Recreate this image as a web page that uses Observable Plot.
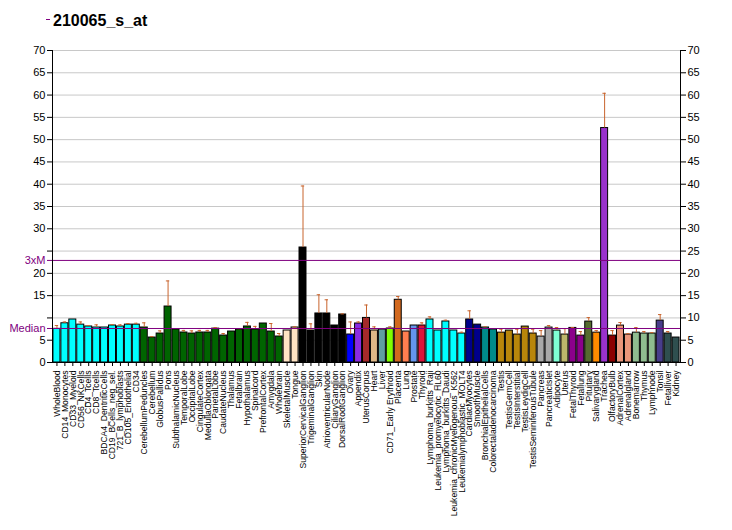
<!DOCTYPE html>
<html>
<head>
<meta charset="utf-8">
<script src="https://cdn.jsdelivr.net/npm/d3@7"></script>
<script src="https://cdn.jsdelivr.net/npm/@observablehq/plot@0.6"></script>
<style>
  html, body { margin: 0; padding: 0; background: white; }
  #wrap { position: relative; width: 732px; height: 530px; overflow: hidden; }
  #title { position: absolute; left: 53px; top: 12px; font: bold 16px "Liberation Sans", Arial, sans-serif; color: #000; }
  #dash { position: absolute; left: 46px; top: 19px; width: 4px; height: 1px; background: #800080; }
  #chart { position: absolute; left: 0; top: 40px; }
</style>
</head>
<body>
<div id="wrap">
  <div id="dash"></div>
  <div id="title">210065_s_at</div>
  <div id="chart"></div>
</div>
<script>
const tissues = [
  "WholeBlood","CD14_Monocytes","CD33_Myeloid","CD56_NKCells","CD4_Tcells","CD8_Tcells",
  "BDCA4_DentriticCells","CD19_BCells_neg_sel.","721_B_lymphoblasts","CD105_Endothelial","CD34",
  "CerebellumPeduncles","Cerebellum","GlobusPallidus","Pons","SubthalamicNucleus","TemporalLobe",
  "OccipitalLobe","CingulateCortex","MedullaOblongata","ParietalLobe","CaudateNucleus","Thalamus",
  "Fetalbrain","Hypothalamus","Spinalcord","PrefrontalCortex","Amygdala","Wholebrain",
  "SkeletalMuscle","Tongue",
  "SuperiorCervicalGanglion","TrigeminalGanglion","Skin","AtrioventricularNode","CiliaryGanglion","DorsalRootGanglion",
  "Ovary","Appendix","UterusCorpus","Heart","Liver","CD71_Early Erythroid","Placenta","Lung","Prostate","Thyroid",
  "Lymphoma_burkitts_Raji","Leukemia_promyelocytic_HL60","Lymphoma_burkitts_Daudi",
  "Leukemia_chronicMyelogenous_K562","Leukemialymphoblastic_MOLT4",
  "CardiacMyocytes","SmoothMuscle","BronchialEpithelialCells","Colorectaladenocarcinoma",
  "Testis","TestisGermCell","TestisInterstitial","TestisLeydigCell","TestisSeminiferousTubule",
  "Pancreas","PancreaticIslet","Adipocyte","Uterus","FetalThyroid","Fetallung","Pituitary",
  "Salivarygland","Trachea","OlfactoryBulb","AdrenalCortex","Adrenalgland","Bonemarrow",
  "Thymus","Lymphnode","Tonsil","Fetalliver","Kidney"
];

const values = [
  7.55, 8.8, 9.65, 8.5, 8.08, 7.85, 7.85, 8.3, 8.08, 8.5, 8.5,
  7.85, 5.6, 6.5, 12.56, 7.4, 6.73, 6.5, 6.73, 6.73, 7.6, 6.05, 6.95, 7.4, 8.08, 7.4, 8.75, 6.95, 5.83,
  7.18, 7.85,
  25.8, 7.18, 11.0, 11.0, 8.3, 10.77,
  6.28, 8.75, 10.0, 7.18, 7.4, 7.63, 14.07, 6.95, 8.3, 8.3,
  9.65, 7.18, 9.2, 7.18, 6.5,
  9.65, 8.5, 7.85, 7.4,
  6.7, 7.16, 6.27, 8.06, 6.5,
  5.82, 7.84, 7.16, 6.27, 7.76, 6.04, 9.18, 6.7, 52.6, 6.04, 8.28, 6.27, 6.7, 6.5, 6.5, 9.4, 6.5, 5.6
];

const errorTops = [
  8.3, 9.1, null, 9.1, 8.3, 8.45, null, 8.5, 8.45, 8.75, 8.8,
  8.9, 5.8, 7.1, 18.3, null, 7.2, 7.1, 7.2, 7.2, 7.85, 6.5, null, 7.6, 9.0, 8.1, null, 8.75, 6.5,
  null, 8.0,
  39.6, 8.68, 15.2, 14.07, null, 10.9,
  9.1, 9.1, 12.9, 8.0, 7.6, 8.0, 14.8, null, null, 8.9,
  10.24, null, 9.5, null, 6.8,
  11.6, null, 8.0, 7.6,
  7.46, null, 7.46, null, 7.46,
  7.16, 8.28, 7.84, 7.6, 7.84, 6.94, 10.07, 7.16, 60.4, 7.16, 8.96, 6.5, 7.84, 6.94, 6.7, 10.75, 6.94, null
];

const barColors = [
  ...Array(11).fill("#00ffff"),
  ...Array(18).fill("#006400"),
  ...Array(2).fill("#ffe4c4"),
  ...Array(6).fill("#000000"),
  "#0000ff","#8a2be2","#a52a2a","#deb887","#5f9ea0","#7fff00","#d2691e","#ff7f50","#6495ed","#dc143c",
  ...Array(5).fill("#00ffff"),
  "#00008b","#00008b","#008b8b","#008b8b",
  ...Array(5).fill("#b8860b"),
  "#a9a9a9","#a9a9a9","#7fffd4","#bdb76b","#8b008b","#8b008b","#556b2f","#ff8c00","#9932cc","#8b0000",
  "#e9967a","#e9967a","#8fbc8f","#8fbc8f","#8fbc8f","#483d8b","#2f4f4f","#2f4f4f"
];

const yTicks = [0,5,10,15,20,25,30,35,40,45,50,55,60,65,70];
const median = 7.63;
const threeM = 22.9;

const data = tissues.map((t, i) => ({tissue: t, value: values[i], err: errorTops[i], color: barColors[i]}));
const errData = data.filter(d => d.err != null);

const errColor = "#c8642d";

const chart = Plot.plot({
  width: 732,
  height: 490,
  marginLeft: 52,
  marginRight: 52,
  marginTop: 10,
  marginBottom: 168,
  style: {fontFamily: "'Liberation Sans', Arial, sans-serif", fontSize: "11px", background: "white", color: "black"},
  x: {type: "band", domain: tissues, padding: 0.12, align: 0.5, label: null, axis: null},
  y: {domain: [0, 70], label: null, axis: null},
  color: {type: "identity"},
  marks: [
    Plot.gridY(yTicks.filter(d => d > 0), {stroke: "#c8c8c8", strokeOpacity: 1}),
    Plot.barY(data, {x: "tissue", y: "value", fill: "color", stroke: "black", strokeWidth: 1}),
    Plot.ruleX(errData, {x: "tissue", y1: "value", y2: "err", stroke: errColor, strokeWidth: 1}),
    Plot.tickY(errData, {x: "tissue", y: "err", stroke: errColor, strokeWidth: 1, insetLeft: 1.8, insetRight: 1.8}),
    Plot.ruleY([median, threeM], {stroke: "#800080", strokeWidth: 1}),
    Plot.ruleY([0], {stroke: "black"}),
    Plot.frame({anchor: "left", stroke: "black"}),
    Plot.frame({anchor: "right", stroke: "black"}),
    Plot.axisY(yTicks, {anchor: "left", tickSize: 5, tickPadding: 2, fontSize: 11,
      tickFormat: d => (d === 10 || d === 25) ? "" : String(d)}),
    Plot.axisY([median, threeM], {anchor: "left", tickSize: 5, tickPadding: 2, fontSize: 11,
      stroke: "#800080", fill: "#800080",
      tickFormat: d => d === median ? "Median" : "3xM"}),
    Plot.axisY(yTicks, {anchor: "right", tickSize: 5, tickPadding: 2, fontSize: 11}),
    Plot.axisX({tickSize: 4, tickPadding: 4, tickRotate: -90, fontSize: 8.6,
      fontFamily: "'Liberation Sans', Arial, sans-serif"})
  ]
});
document.getElementById("chart").appendChild(chart);
</script>
</body>
</html>
